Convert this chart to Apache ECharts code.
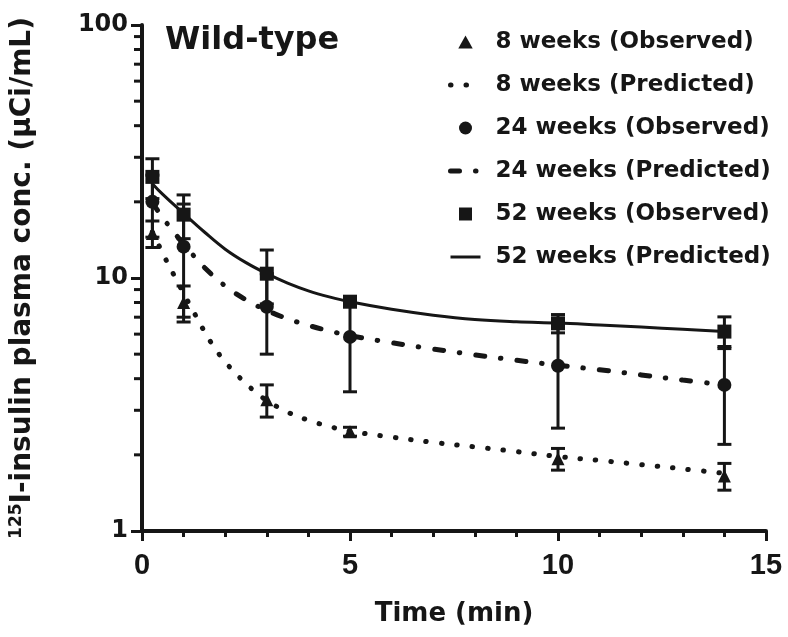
<!DOCTYPE html>
<html>
<head>
<meta charset="utf-8">
<script src="https://cdn.jsdelivr.net/npm/echarts@6/dist/echarts.min.js"></script>
<style>
html, body { margin: 0; padding: 0; background: #fff; }
#chart { width: 788px; height: 637px; }
</style>
</head>
<body>
<div id="chart"></div>
<script>
// observed sampling times (min) and mean ± SD for each age group
const obsTime = [0.25, 1, 3, 5, 10, 14];
const obs8 = [15.0, 8.0, 3.3, 2.47, 1.93, 1.65];
const err8 = [1.8, 1.3, 0.48, 0.1, 0.19, 0.2];
const obs24 = [20.0, 13.3, 7.7, 5.85, 4.5, 3.78];
const err24 = [5.5, 6.3, 2.7, 2.3, 1.95, 1.58];
const obs52 = [25.1, 17.8, 10.4, 8.06, 6.62, 6.14];
const err52 = [4.5, 3.5, 2.5, 0.35, 0.55, 0.88];

// model predictions [time, conc]
const pred8 = [[0.25, 15.2], [0.5, 12.5], [0.75, 10.4], [1, 8.7], [1.25, 7.3], [1.5, 6.15],
  [1.75, 5.28], [2, 4.66], [2.25, 4.2], [2.5, 3.82], [2.75, 3.52], [3, 3.28], [3.5, 2.95],
  [4, 2.74], [4.5, 2.59], [5, 2.48], [6, 2.35], [7, 2.24], [8, 2.15], [9, 2.06], [10, 1.97],
  [11, 1.9], [12, 1.83], [13, 1.76], [14, 1.69]];
const pred24 = [[0.25, 19.8], [0.5, 17.3], [0.75, 15.3], [1, 13.6], [1.25, 12.2], [1.5, 11.0],
  [2, 9.3], [2.5, 8.2], [3, 7.45], [3.5, 6.9], [4, 6.5], [4.5, 6.18], [5, 5.92], [6, 5.55],
  [7, 5.24], [8, 4.97], [9, 4.73], [10, 4.52], [11, 4.34], [12, 4.14], [13, 3.95], [14, 3.78]];
const pred52 = [[0.25, 23.6], [0.5, 21.4], [1, 18.0], [1.5, 15.2], [2, 13.0], [2.5, 11.5],
  [3, 10.4], [3.5, 9.55], [4, 8.9], [4.5, 8.42], [5, 8.05], [6, 7.52], [7, 7.13], [8, 6.86],
  [9, 6.72], [10, 6.64], [11, 6.52], [12, 6.4], [13, 6.27], [14, 6.14]];

const yMinorTicks = [2, 3, 4, 5, 6, 7, 8, 9, 20, 30, 40, 50, 60, 70, 80, 90];

const INK = '#161616';
const WIDE = 'DejaVu Sans';
const NO_MARK = { color: 'rgba(0,0,0,0)', borderWidth: 0 };

function pairs(t, v) {
    return t.map((x, i) => [x, v[i]]);
}
function bars(t, v, e) {
    return t.map((x, i) => [x, v[i] - e[i], v[i] + e[i]]);
}

function errorBars(data) {
    return {
        type: 'custom',
        data: data,
        z: 3,
        silent: true,
        clip: false,
        encode: { x: 0, y: [1, 2] },
        renderItem(params, api) {
            const lo = api.coord([api.value(0), api.value(1)]);
            const hi = api.coord([api.value(0), api.value(2)]);
            const w = 7;
            const style = { stroke: INK, lineWidth: 3 };
            return {
                type: 'group',
                children: [
                    { type: 'line', shape: { x1: lo[0], y1: lo[1], x2: hi[0], y2: hi[1] }, style },
                    { type: 'line', shape: { x1: lo[0] - w, y1: lo[1], x2: lo[0] + w, y2: lo[1] }, style },
                    { type: 'line', shape: { x1: hi[0] - w, y1: hi[1], x2: hi[0] + w, y2: hi[1] }, style }
                ]
            };
        }
    };
}

const chart = echarts.init(document.getElementById('chart'));
chart.setOption({
    animation: false,
    backgroundColor: '#fff',
    title: {
        text: 'Wild-type',
        left: 160,
        top: 20,
        textStyle: { color: INK, fontFamily: WIDE, fontWeight: 'bold', fontSize: 32 }
    },
    legend: {
        orient: 'vertical',
        left: 443,
        top: 25,
        itemWidth: 30,
        itemHeight: 13,
        itemGap: 19,
        lineStyle: { width: 'inherit' },
        textStyle: {
            color: INK, fontFamily: WIDE, fontWeight: 'bold', fontSize: 23,
            lineHeight: 24, padding: [0, 0, 0, 10]
        },
        data: [
            { name: '8 weeks (Observed)', icon: 'path://M5,0L10,9L0,9Z' },
            { name: '8 weeks (Predicted)', itemStyle: NO_MARK },
            { name: '24 weeks (Observed)', icon: 'circle' },
            { name: '24 weeks (Predicted)', itemStyle: NO_MARK },
            { name: '52 weeks (Observed)', icon: 'path://M0,0h10v10h-10z' },
            { name: '52 weeks (Predicted)', itemStyle: NO_MARK }
        ]
    },
    grid: { left: 142, right: 22, top: 25, bottom: 106 },
    xAxis: {
        type: 'value',
        min: 0,
        max: 15,
        interval: 5,
        axisLine: { onZero: false, lineStyle: { color: INK, width: 4 } },
        axisTick: { length: 10, lineStyle: { color: INK, width: 3 } },
        minorTick: { show: true, splitNumber: 5, length: 6, lineStyle: { color: INK, width: 3 } },
        axisLabel: { color: INK, fontFamily: 'Liberation Sans', fontWeight: 'bold', fontSize: 29, margin: 20 },
        splitLine: { show: false },
        name: 'Time (min)',
        nameLocation: 'middle',
        nameGap: 70,
        nameTextStyle: { color: INK, fontFamily: WIDE, fontWeight: 'bold', fontSize: 26 }
    },
    yAxis: {
        type: 'log',
        logBase: 10,
        min: 1,
        max: 100,
        axisLine: { show: true, lineStyle: { color: INK, width: 4 } },
        axisTick: { show: true, length: 11, lineStyle: { color: INK, width: 3 } },
        axisLabel: { color: INK, fontFamily: WIDE, fontWeight: 'bold', fontSize: 24, margin: 14 },
        splitLine: { show: false },
        name: '{sup|125}{m|I-insulin plasma conc. (μCi/mL)}',
        nameLocation: 'middle',
        nameGap: 104,
        nameRotate: 90,
        nameTextStyle: {
            rich: {
                m: { color: INK, fontFamily: WIDE, fontWeight: 'bold', fontSize: 28, lineHeight: 30 },
                sup: { color: INK, fontFamily: WIDE, fontWeight: 'bold', fontSize: 17, lineHeight: 16, verticalAlign: 'top' }
            }
        }
    },
    series: [
        {
            type: 'custom',
            data: yMinorTicks.map(v => [0, v]),
            silent: true,
            clip: false,
            z: 1,
            renderItem(params, api) {
                const p = api.coord([0, api.value(1)]);
                return {
                    type: 'line',
                    shape: { x1: p[0] - 8, y1: p[1], x2: p[0], y2: p[1] },
                    style: { stroke: INK, lineWidth: 3 }
                };
            }
        },
        {
            name: '8 weeks (Predicted)', type: 'line', data: pred8, smooth: 0.4,
            symbol: 'none', z: 2,
            itemStyle: { color: INK },
            lineStyle: { color: INK, width: 5, type: [0.5, 15], cap: 'round' }
        },
        {
            name: '24 weeks (Predicted)', type: 'line', data: pred24, smooth: 0.4,
            symbol: 'none', z: 2,
            itemStyle: { color: INK },
            lineStyle: { color: INK, width: 5, type: [9, 16, 0.5, 16], cap: 'round' }
        },
        {
            name: '52 weeks (Predicted)', type: 'line', data: pred52, smooth: 0.4,
            symbol: 'none', z: 2,
            itemStyle: { color: INK },
            lineStyle: { color: INK, width: 3 }
        },
        errorBars(bars(obsTime, obs8, err8)),
        errorBars(bars(obsTime, obs24, err24)),
        errorBars(bars(obsTime, obs52, err52)),
        {
            name: '8 weeks (Observed)', type: 'scatter', data: pairs(obsTime, obs8), z: 5,
            symbol: 'triangle', symbolSize: 13, itemStyle: { color: INK, opacity: 1 }
        },
        {
            name: '24 weeks (Observed)', type: 'scatter', data: pairs(obsTime, obs24), z: 5,
            symbol: 'circle', symbolSize: 14, itemStyle: { color: INK, opacity: 1 }
        },
        {
            name: '52 weeks (Observed)', type: 'scatter', data: pairs(obsTime, obs52), z: 5,
            symbol: 'rect', symbolSize: 14, itemStyle: { color: INK, opacity: 1 }
        }
    ]
});
</script>
</body>
</html>
